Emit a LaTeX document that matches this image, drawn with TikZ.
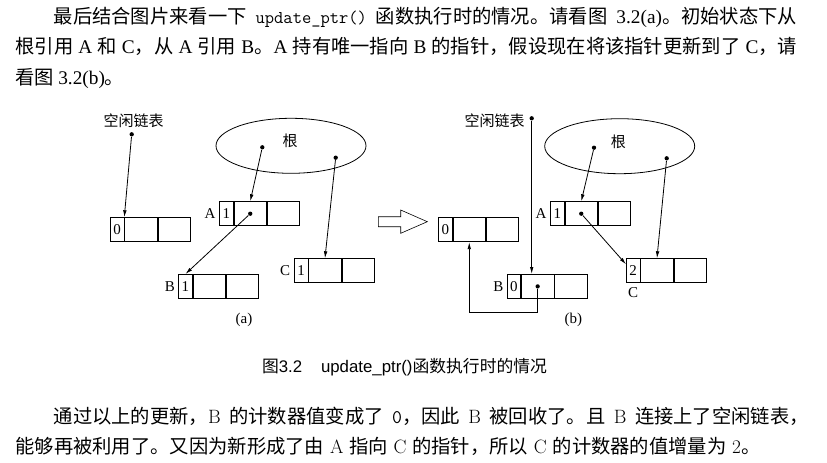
\documentclass[tikz,border=0pt]{standalone}
\usepackage{fontspec}
\usetikzlibrary{arrows.meta,shapes.geometric,calc}
\newfontfamily\cjk{Noto Sans CJK SC}
\newfontfamily\tnr{Liberation Serif}
\newfontfamily\hv{Liberation Sans}
\XeTeXlinebreaklocale "zh"
\XeTeXlinebreakskip=0pt plus 1pt
\newcommand\recbox[4]{%
  \node[cella, anchor=north west] (#1-0) at (#2,#3) {#4};
  \node[cellb, anchor=north west] (#1-1) at (#1-0.north east) {};
  \node[cellb, anchor=north west] (#1-2) at (#1-1.north east) {};
}
\tikzset{
  cella/.style={draw, rectangle, minimum width=13.5pt, minimum height=24pt, inner sep=0pt, font=\tnr\fontsize{15}{15}\selectfont},
  cellb/.style={draw, rectangle, minimum width=32.5pt, minimum height=24pt, inner sep=0pt},
  dot/.style={circle, fill, inner sep=0pt, minimum size=4.3pt},
  arr/.style={-{Latex[length=7pt,width=3.6pt]}},
  lbl/.style={inner sep=0pt, font=\tnr\fontsize{15}{15}\selectfont},
  cjklbl/.style={inner sep=0pt, font=\cjk\fontsize{15}{15}\selectfont},
  rootshape/.style={draw, ellipse, minimum width=150pt, minimum height=55pt, inner sep=0pt},
  txt/.style={inner sep=0pt, anchor=base west, font=\cjk\fontsize{19.3}{23}\selectfont},
  captxt/.style={inner sep=0pt, anchor=base west, font=\cjk\fontsize{16.8}{20}\selectfont},
}
\begin{document}
\begin{tikzpicture}[x=1pt, y=-1pt, line width=0.8pt]
\fill[white] (0,0) rectangle (827,463);
\useasboundingbox (0,0) rectangle (827,463);

% ---------- top paragraph ----------
\node[txt] (p1) at (53.3,23.2) {\makebox[743.4pt][s]{最后结合图片来看一下 {\ttfamily\fontsize{18}{18}\selectfont update\_ptr()} 函数执行时的情况。请看图 {\tnr 3.2(a)}。初始状态下从}};
\node[txt] (p2) at (15,53.7) {\makebox[781.7pt][s]{根引用 {\tnr A} 和 {\tnr C}，从 {\tnr A} 引用 {\tnr B}。{\tnr A} 持有唯一指向 {\tnr B} 的指针，假设现在将该指针更新到了 {\tnr C}，请}};
\node[txt] (p3) at (15,84.2) {看图 {\tnr 3.2(b)}。};

% ---------- diagram (a) ----------
\node[cjklbl] (flA) at (133.5,121) {空闲链表};
\node[dot] (flAd) at (131.7,134.3) {};
\node[rootshape] (rootA) at (291,145.8) {};
\node[cjklbl] (rootAt) at (290,141) {根};
\node[dot] (rA1) at (262.3,147.3) {};
\node[dot] (rA2) at (335.7,157.7) {};

\recbox{F}{110}{217.3}{0}
\recbox{A}{219.3}{201.3}{1}
\recbox{B}{178.3}{274}{1}
\recbox{C}{294}{258.3}{1}
\node[lbl, anchor=east] (lA) at ([xshift=-3.5pt]A-0.west) {A};
\node[lbl, anchor=east] (lB) at ([xshift=-3pt]B-0.west) {B};
\node[lbl, anchor=east] (lC) at ([xshift=-3.5pt]C-0.west) {C};
\node[dot] (aD) at (A-1.center) {};

\draw[arr] (flAd) -- (F-0.north east);
\draw[arr] (rA1) -- (A-1.north);
\draw[arr] (rA2) -- (C-1.north);
\draw[arr] (aD) -- (B-0.north);
\node[lbl] (capa) at (244,320) {(a)};

% ---------- hollow arrow ----------
\draw[line width=0.6pt] (378.3,216.7) -- (400.7,216.7) -- (400.7,210) -- (427.3,221.7)
  -- (400.7,233.3) -- (400.7,226.7) -- (378.3,226.7) -- cycle;

% ---------- diagram (b) ----------
\node[cjklbl] (flB) at (494.7,120.7) {空闲链表};
\node[dot] (flBd) at (531.7,118.3) {};
\node[rootshape] (rootB) at (619.7,146.2) {};
\node[cjklbl] (rootBt) at (618.3,141.5) {根};
\node[dot] (rB1) at (594,147.7) {};
\node[dot] (rB2) at (666.7,158.3) {};

\recbox{F2}{438.3}{217.3}{0}
\recbox{A2}{550.3}{201.3}{1}
\recbox{B2}{506.7}{274}{0}
\recbox{C2}{626}{258.3}{2}
\node[lbl, anchor=east] (lA2) at ([xshift=-3.5pt]A2-0.west) {A};
\node[lbl, anchor=east] (lB2) at ([xshift=-3pt]B2-0.west) {B};
\node[lbl, anchor=north] (lC2) at ([yshift=-4.5pt]C2-0.south) {C};
\node[dot] (aD2) at (A2-1.center) {};
\node[dot] (bD2) at (B2-1.center) {};

\draw[arr] (flBd) -- (flBd |- B2-1.north);
\draw[arr] (rB1) -- (A2-1.north);
\draw[arr] (rB2) -- (C2-1.north);
\draw[arr] (aD2) -- ([yshift=-6pt]C2-0.north west);
\draw[arr] (bD2) -- ++(0,25.5) -| (F2-1.south);
\node[lbl] (capb) at (573.3,320) {(b)};

% ---------- caption ----------
\node[captxt] (cap) at (261.7,372.1) {图{\hv 3.2}\hspace{18.8pt}{\hv update\_ptr()}函数执行时的情况};

% ---------- bottom paragraph ----------
\node[txt] (q1) at (53.3,423.9) {\makebox[755pt][s]{通过以上的更新，{\rmfamily B} 的计数器值变成了 {\ttfamily 0}，因此 {\rmfamily B} 被回收了。且 {\rmfamily B} 连接上了空闲链表，}};
\node[txt] (q2) at (15,453.9) {\makebox[745pt][s]{能够再被利用了。又因为新形成了由 {\rmfamily A} 指向 {\rmfamily C} 的指针，所以 {\rmfamily C} 的计数器的值增量为 {\rmfamily 2}。}};
\end{tikzpicture}
\end{document}
